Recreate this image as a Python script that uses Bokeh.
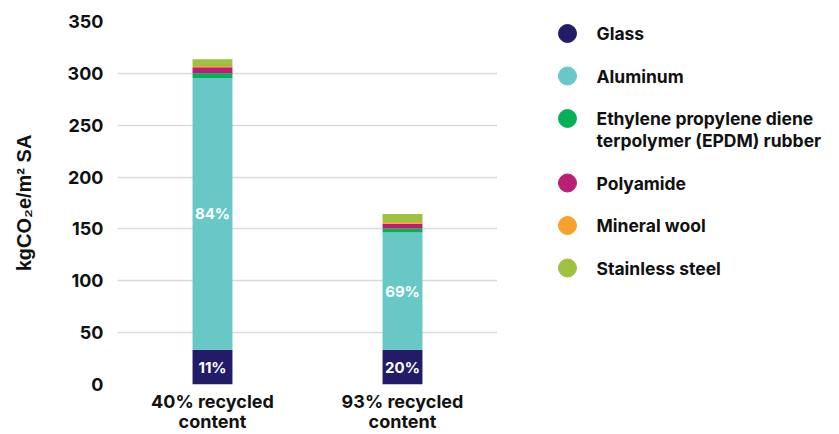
from bokeh.plotting import figure
from bokeh.layouts import row
from bokeh.models import (Range1d, ColumnDataSource, SingleIntervalTicker, FixedTicker, LinearAxis)
from bokeh.core.properties import value
from bokeh.embed import file_html
from bokeh.resources import INLINE

categories = ["40% recycled content", "93% recycled content"]
tick_line1 = ["40% recycled", "93% recycled"]
tick_line2 = ["content", "content"]
materials = ["Glass", "Aluminum", "Ethylene propylene diene\nterpolymer (EPDM) rubber",
             "Polyamide", "Mineral wool", "Stainless steel"]
keys = ["glass", "aluminum", "epdm", "polyamide", "mineral_wool", "stainless"]
glass = [33.5, 33.5]
aluminum = [262.0, 113.0]
epdm = [4.5, 3.9]
polyamide = [5.8, 4.5]
mineral_wool = [1.3, 1.9]
stainless = [6.5, 7.7]
glass_pct = ["11%", "20%"]
aluminum_pct = ["84%", "69%"]
colors = ["#211b68", "#67c8c6", "#04b158", "#b91f74", "#f7a02c", "#9fc140"]

FONT = "Inter"
AXFONT = "Liberation Sans"
H = 434
TOP_B, BOT_B = 21, 50

xpos = list(range(len(categories)))
src = ColumnDataSource(dict(x=xpos, cat=categories, glass=glass, aluminum=aluminum, epdm=epdm,
                            polyamide=polyamide, mineral_wool=mineral_wool, stainless=stainless))

p = figure(x_range=Range1d(-0.5, len(categories) - 0.5), y_range=Range1d(0, 350),
           width=497, height=H, output_backend="svg", toolbar_location=None,
           min_border_left=117, min_border_right=0, min_border_top=TOP_B, min_border_bottom=BOT_B,
           x_axis_type=None)
p.outline_line_color = None
p.background_fill_color = "white"

p.vbar_stack(keys, x="x", width=0.21, source=src, color=colors, line_width=0)

# percentage labels
gl_y = [g / 2 for g in glass]
al_y = [g + a / 2 for g, a in zip(glass, aluminum)]
lab_src = ColumnDataSource(dict(x=xpos + xpos, y=gl_y + al_y, t=glass_pct + aluminum_pct))
p.text(x="x", y="y", text="t", source=lab_src, text_color="white", text_font=value(FONT),
       text_font_style="bold", text_font_size="15px", text_align="center", text_baseline="middle")

# y axis
p.yaxis.ticker = SingleIntervalTicker(interval=50)
p.yaxis.axis_line_color = None
p.yaxis.major_tick_line_color = None
p.yaxis.minor_tick_line_color = None
p.yaxis.major_tick_out = 0
p.yaxis.major_label_text_font = FONT
p.yaxis.major_label_text_font_style = "bold"
p.yaxis.major_label_text_font_size = "18px"
p.yaxis.major_label_text_color = "#111111"
p.yaxis.major_label_standoff = 10
p.yaxis.axis_label = "kgCO₂e/m² SA"
p.yaxis.axis_label_text_font = AXFONT
p.yaxis.axis_label_text_font_style = "bold"
p.yaxis.axis_label_text_font_size = "20px"
p.yaxis.axis_label_text_color = "#111111"
p.yaxis.axis_label_standoff = 30

# x axis, two text lines via two stacked axes
def make_x(labels, standoff):
    ax = LinearAxis(ticker=FixedTicker(ticks=xpos),
                    major_label_overrides={i: t for i, t in zip(xpos, labels)})
    ax.axis_line_color = None
    ax.major_tick_line_color = None
    ax.minor_tick_line_color = None
    ax.major_tick_out = 0
    ax.major_tick_in = 0
    ax.major_label_text_font = FONT
    ax.major_label_text_font_style = "bold"
    ax.major_label_text_font_size = "18px"
    ax.major_label_text_color = "#111111"
    ax.major_label_standoff = standoff
    return ax

p.add_layout(make_x(tick_line1, 6), "below")
p.add_layout(make_x(tick_line2, -4), "below")

p.ygrid.grid_line_color = "#d9d9d9"
p.ygrid.grid_line_width = 1.5

# legend panel: same frame as the chart, ranges in page pixels
LEG_W = 342
LEG_TOP, ROW_PITCH, LINE_PITCH = 33, 42.5, 22
DOT_X, TEXT_X = 70, 99
lg = figure(width=LEG_W, height=H, output_backend="svg", toolbar_location=None,
            x_range=Range1d(0, LEG_W), y_range=Range1d(H - BOT_B, TOP_B),
            x_axis_type=None, y_axis_type=None,
            min_border_left=0, min_border_right=0, min_border_top=TOP_B, min_border_bottom=BOT_B)
lg.outline_line_color = None
lg.grid.visible = False

dot_y, txt_x, txt_y, txt = [], [], [], []
extra = 0
for i, name in enumerate(materials):
    yy = LEG_TOP + ROW_PITCH * i + LINE_PITCH * extra
    dot_y.append(yy)
    lines = name.split("\n")
    for j, ln in enumerate(lines):
        txt_x.append(TEXT_X)
        txt_y.append(yy + LINE_PITCH * j)
        txt.append(ln)
    extra += len(lines) - 1

lg.scatter(x=[DOT_X] * len(materials), y=dot_y, marker="circle", size=18,
           fill_color=colors, line_color=colors)
lg.text(x=txt_x, y=txt_y, text=txt, text_font=value(FONT), text_font_style="bold",
        text_font_size="17.5px", text_color="#111111", text_align="left", text_baseline="middle")

layout = row(p, lg, spacing=0)
open("out.html", "w").write(file_html(layout, INLINE))
